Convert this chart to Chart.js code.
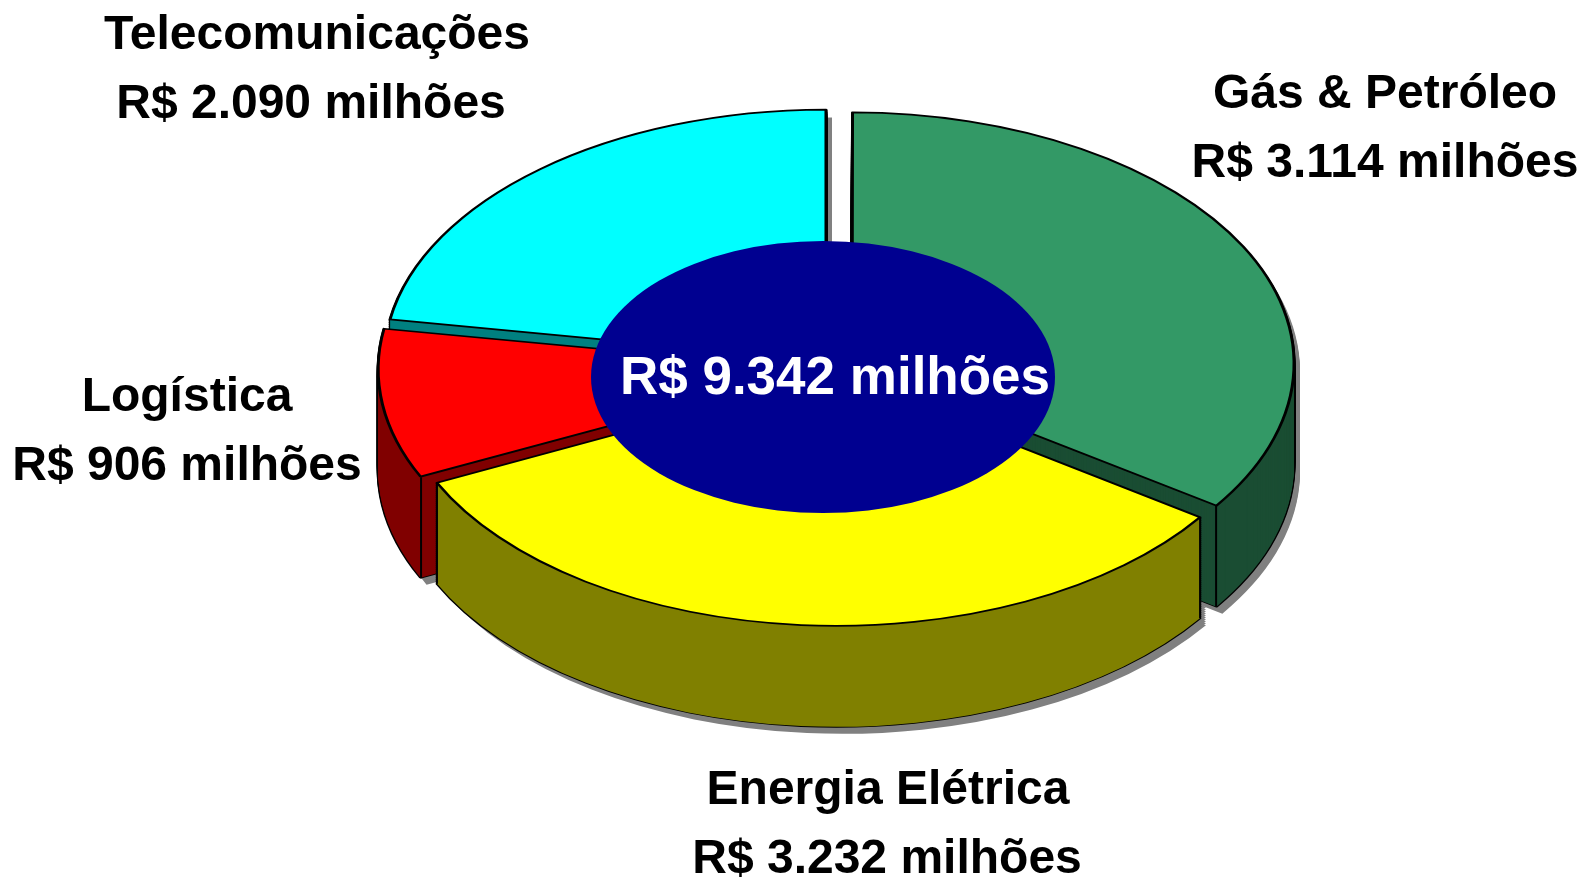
<!DOCTYPE html>
<html><head><meta charset="utf-8">
<style>html,body{margin:0;padding:0;background:#fff}canvas{display:block}</style>
<script src="https://cdn.jsdelivr.net/npm/chart.js@4"></script>
</head><body><canvas id="c" width="1585" height="879"></canvas>
<script>
const categories = ['Gás & Petróleo', 'Energia Elétrica', 'Logística', 'Telecomunicações'];
const valueLabels = ['R$ 3.114 milhões', 'R$ 3.232 milhões', 'R$ 906 milhões', 'R$ 2.090 milhões'];
// Wedge sizes as drawn in the picture: the green wedge spans about 125 deg, the yellow about 120 deg.
const drawnValues = [3232, 3114, 906, 2090];
const totalLabel = 'R$ 9.342 milhões';
const topColors = ['#339966', '#ffff00', '#ff0000', '#00ffff'];
const sideColors = ['#1a4d33', '#808000', '#800000', '#008080'];
const explode = [68, 48, 68, 68];
const drawOrder = [3, 0, 2, 1];
const namePos = [[1385, 108], [888, 804], [187, 411], [317, 49]];
const valuePos = [[1385, 177], [887, 873], [187, 480], [311, 118]];

const baseX = 837, baseY = 368, tilt = 0.568, depth = 101;

function variant(arc, fill, stroke, bw) {
  const p = Object.create(arc);
  const off = arc.options.offset / 4;
  // Chart.js enlarges a narrow exploded wedge; keep every wedge on one radius.
  p.outerRadius = arc.outerRadius - off * (1 - Math.sin(Math.min(Math.PI, arc.circumference)));
  p.options = {offset: arc.options.offset, spacing: 0, circular: true, borderRadius: 0,
    borderAlign: 'center', borderJoinStyle: 'round', borderDash: [], borderDashOffset: 0,
    borderWidth: bw, backgroundColor: fill, borderColor: stroke};
  return p;
}
function paint(ctx, arc, dx, dy, fill, stroke, bw) {
  ctx.save();
  ctx.translate(baseX + dx, baseY + dy);
  ctx.scale(1, tilt);
  ctx.translate(-arc.x, -arc.y);
  arc.draw.call(variant(arc, fill, stroke, bw), ctx);
  ctx.restore();
}
function cornerLine(ctx, arc, angle) {
  const off = arc.options.offset / 4, mid = (arc.startAngle + arc.endAngle) / 2;
  const x = baseX + Math.cos(mid) * off + Math.cos(angle) * arc.outerRadius;
  const y = baseY + (Math.sin(mid) * off + Math.sin(angle) * arc.outerRadius) * tilt;
  ctx.beginPath(); ctx.moveTo(x, y); ctx.lineTo(x, y + depth);
  ctx.lineWidth = 2; ctx.strokeStyle = '#000'; ctx.stroke();
}
const pie3d = {
  id: 'pie3d',
  beforeDatasetsDraw(chart) {
    const ctx = chart.ctx, arcs = chart.getDatasetMeta(0).data;
    for (const i of drawOrder) for (let d = depth; d >= 0; d -= 2)
      paint(ctx, arcs[i], 6, d + 7, '#808080', '#808080', 0);
    for (const i of drawOrder) {
      const a = arcs[i];
      for (let d = depth; d >= 0; d -= 2) paint(ctx, a, 0, d, '#000', '#000', 3);
      for (let d = depth; d >= 0; d -= 1) paint(ctx, a, 0, d, sideColors[i], sideColors[i], 0);
      if (i === 0) cornerLine(ctx, a, a.endAngle);
      if (i === 2) cornerLine(ctx, a, a.startAngle);
      if (i === 1) cornerLine(ctx, a, a.endAngle), cornerLine(ctx, a, a.startAngle);
      paint(ctx, a, 0, 0, topColors[i], '#000', 3);
    }
    return false;
  },
  afterDraw(chart) {
    const ctx = chart.ctx;
    ctx.save();
    ctx.fillStyle = '#000090';
    ctx.beginPath(); ctx.ellipse(823, 377, 232, 136, 0, 0, Math.PI * 2); ctx.fill();
    ctx.textAlign = 'center'; ctx.textBaseline = 'alphabetic';
    ctx.fillStyle = '#000';
    ctx.font = 'bold 48px "Liberation Sans"';
    categories.forEach((c, i) => {
      ctx.fillText(c, namePos[i][0], namePos[i][1]);
      ctx.fillText(valueLabels[i], valuePos[i][0], valuePos[i][1]);
    });
    ctx.font = 'bold 53px "Liberation Sans"';
    ctx.fillStyle = '#fff';
    ctx.fillText(totalLabel, 835, 394);
    ctx.restore();
  }
};
new Chart(document.getElementById('c'), {
  type: 'pie',
  data: {labels: categories, datasets: [{data: drawnValues, backgroundColor: topColors,
    borderColor: '#000', borderWidth: 2, offset: explode}]},
  options: {responsive: false, animation: false, radius: 442, layout: {padding: 0},
    plugins: {legend: {display: false}, tooltip: {enabled: false}, title: {display: false}}},
  plugins: [pie3d]
});
</script></body></html>
